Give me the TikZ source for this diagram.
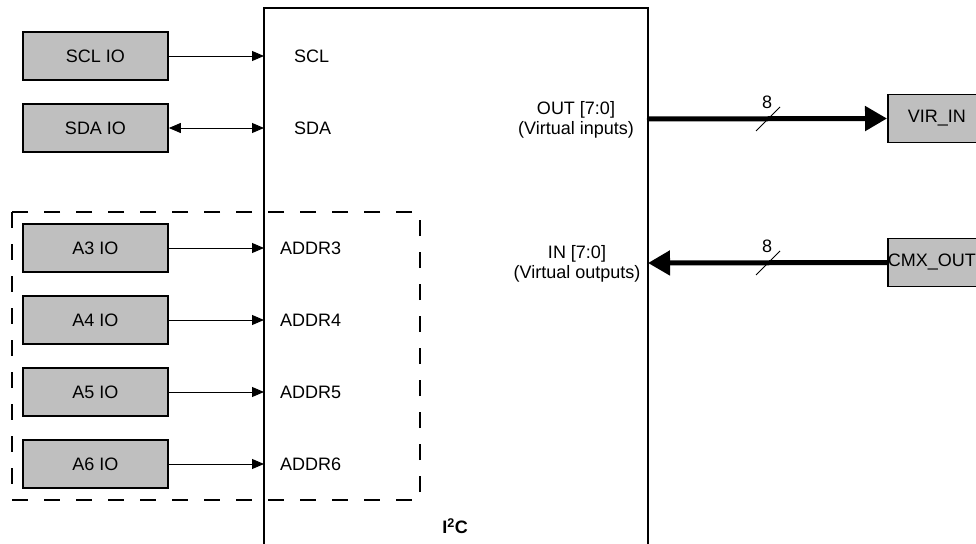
\documentclass[tikz,border=0pt]{standalone}
\usepackage{fontspec}
\setmainfont{Liberation Sans}
\usepackage{tikz}
\usetikzlibrary{arrows.meta, positioning}

\definecolor{iogray}{RGB}{191,191,191}

\tikzset{
    iobox/.style={draw, line width=1.7pt, fill=iogray, minimum width=145pt,
        minimum height=48pt, inner sep=0pt},
    portlabel/.style={anchor=west, inner sep=0pt},
    sigline/.style={line width=0.9pt, -{Triangle[length=12pt,width=10pt]}},
    busline/.style={line width=5pt, -{Triangle[length=22pt,width=24pt]}},
}

\begin{document}
\begin{tikzpicture}[x=1pt, y=-1pt, font=\fontsize{18}{20}\selectfont]
    \useasboundingbox (0,0) rectangle (976,543);
    \clip (0,0) rectangle (976,543);

    % I2C block, open at the bottom
    \draw[line width=2pt] (264,560) -- (264,8) -- (648,8) -- (648,560);
    \node[font=\fontsize{18}{20}\selectfont\bfseries] (i2c) at (455,526) {I\textsuperscript{2}C};

    % address group
    \draw[dashed, line width=2pt, dash pattern=on 16pt off 16pt] (12,212) rectangle (420,500);

    % left side IO blocks
    \node[iobox] (sclio) at (95.5,56) {SCL IO};
    \node[iobox] (sdaio) at (95.5,128) {SDA IO};
    \foreach \n/\y in {3/248, 4/320, 5/392, 6/464} {
        \node[iobox] (a\n io) at (95.5,\y) {A\n{} IO};
        \coordinate (addr\n) at (264,\y);
        \node[portlabel] (addr\n lbl) at (280,\y) {ADDR\n};
        \draw[sigline] (a\n io.east) -- (addr\n);
    }
    \coordinate (scl) at (264,56);
    \coordinate (sda) at (264,128);
    \node[portlabel] (scllbl) at (294,56) {SCL};
    \node[portlabel] (sdalbl) at (294,128) {SDA};
    \draw[sigline] (sclio.east) -- (scl);
    \draw[line width=0.9pt, {Triangle[length=12pt,width=10pt]}-{Triangle[length=12pt,width=10pt]}] (sdaio.east) -- (sda);

    % virtual ports
    \node[iobox, anchor=west, minimum width=98pt] (virin) at (887,118.5) {VIR\_IN};
    \node[iobox, anchor=west, text width=145pt, align=left, inner sep=0pt] (cmxout) at (887,262.5) {CMX\_OUT};
    \coordinate (out) at (648,119);
    \coordinate (in) at (648,263);
    \node[align=center, inner sep=0pt] (outlbl) at (576,120) {OUT [7:0]\\(Virtual inputs)};
    \node[align=center, inner sep=0pt] (inlbl) at (577,264) {IN [7:0]\\(Virtual outputs)};
    \fill (out) circle (1.5pt);
    \draw[busline] (out) -- (virin.west);
    \draw[busline] (cmxout.west) -- (in);

    % bus width marks
    \draw[line width=0.9pt] (756,131) -- (780,107);
    \node (w1) at (767,102) {8};
    \draw[line width=0.9pt] (756,275) -- (780,251);
    \node (w2) at (767,246) {8};
\end{tikzpicture}
\end{document}
